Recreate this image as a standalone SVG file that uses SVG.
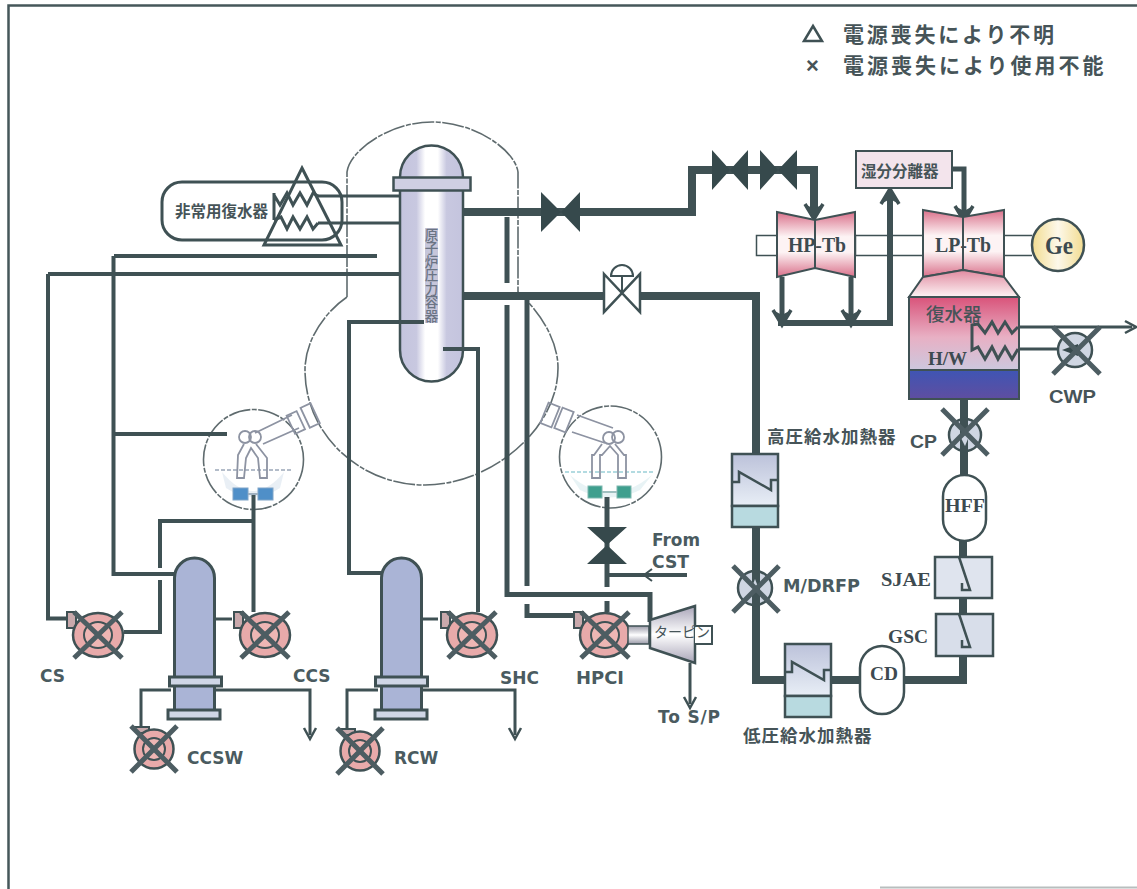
<svg xmlns="http://www.w3.org/2000/svg" width="1137" height="889" viewBox="0 0 1137 889">
<style>
.p{fill:none;stroke:#3f5154;stroke-linejoin:miter}
.t3{stroke-width:3}.t4{stroke-width:4}.t5{stroke-width:5}.t8{stroke-width:8}
.g{fill:none;stroke:#5f6b6e;stroke-width:1.6;stroke-dasharray:22 1.5 5 1.5}
.f{fill:none;stroke:#8d93a2;stroke-width:1.8}
.vd{fill:#36494c}
.x{stroke:#4d5d62;stroke-width:5;stroke-linecap:butt;fill:none}
.lab{font-family:"DejaVu Sans",sans-serif;font-weight:700;font-size:17px;fill:#4a5b60}
.ser{font-family:"Liberation Serif",serif;font-weight:700;fill:#3d4a50}
.jp{font-family:"Noto Sans CJK JP",sans-serif;font-weight:700;fill:#465458}
.arial{font-family:"Liberation Sans",sans-serif;font-weight:700;font-size:18px;fill:#465458}
</style>
<defs>
<linearGradient id="tb" x1="0" y1="0" x2="0" y2="1"><stop offset="0" stop-color="#d9708a"/><stop offset=".38" stop-color="#fdf3f4"/><stop offset=".62" stop-color="#fdf3f4"/><stop offset="1" stop-color="#d9708a"/></linearGradient>
<linearGradient id="hood" x1="0" y1="0" x2="0" y2="1"><stop offset="0" stop-color="#e08aa0"/><stop offset="1" stop-color="#fdf3f4"/></linearGradient>
<linearGradient id="cond" x1="0" y1="0" x2="0" y2="1"><stop offset="0" stop-color="#d9537a"/><stop offset=".55" stop-color="#e8b0c4"/><stop offset="1" stop-color="#ccc8de"/></linearGradient>
<linearGradient id="blue" x1="0" y1="0" x2="0" y2="1"><stop offset="0" stop-color="#3f55b4"/><stop offset="1" stop-color="#5f4ea0"/></linearGradient>
<linearGradient id="rpv" x1="0" y1="0" x2="1" y2="0"><stop offset="0" stop-color="#c4c4de"/><stop offset=".26" stop-color="#c8c8e0"/><stop offset=".4" stop-color="#fff"/><stop offset=".6" stop-color="#fff"/><stop offset=".74" stop-color="#c8c8e0"/><stop offset="1" stop-color="#c4c4de"/></linearGradient>
<linearGradient id="ge" x1="0" y1="0" x2="1" y2="0"><stop offset="0" stop-color="#f2dc90"/><stop offset=".5" stop-color="#fdf8ea"/><stop offset="1" stop-color="#f2dc90"/></linearGradient>
<linearGradient id="hx" x1="0" y1="0" x2="0" y2="1"><stop offset="0" stop-color="#bcc2da"/><stop offset="1" stop-color="#e8eef6"/></linearGradient>
<linearGradient id="shaft" x1="0" y1="0" x2="0" y2="1"><stop offset="0" stop-color="#9a9aa8"/><stop offset=".5" stop-color="#fff"/><stop offset="1" stop-color="#9a9aa8"/></linearGradient>
<linearGradient id="tur" x1="0" y1="0" x2="0" y2="1"><stop offset="0" stop-color="#a9a5b8"/><stop offset=".5" stop-color="#fff"/><stop offset="1" stop-color="#a9a5b8"/></linearGradient>
<marker id="big" markerUnits="userSpaceOnUse" markerWidth="28" markerHeight="28" refX="14" refY="14" orient="auto" overflow="visible"><path d="M6,5 L21,14 L6,23" fill="none" stroke="#3f5154" stroke-width="3.5"/><path d="M6,5 L21,14 L6,23 L11,14Z" fill="#3f5154"/></marker>
<marker id="small" markerUnits="userSpaceOnUse" markerWidth="20" markerHeight="20" refX="10" refY="10" orient="auto" overflow="visible"><path d="M3,4 L14,10 L3,16" fill="none" stroke="#3f5154" stroke-width="2.5"/></marker>
<g id="pumpH"><rect x="-31" y="-23" width="9" height="16" fill="#c9a9ac" stroke="#3f5154" stroke-width="2"/><ellipse rx="25" ry="22" fill="#e8aaaa" stroke="#3f5154" stroke-width="2.5"/><ellipse rx="14" ry="13" fill="#eeb6b4" stroke="#3f5154" stroke-width="2"/><path class="x" d="M-24,-23 L24,23 M-24,23 L24,-23"/></g>
<g id="pumpV"><path d="M-21,-22 H-5 V-16 H-17Z" fill="#c9a9ac" stroke="#3f5154" stroke-width="2"/><circle r="19.5" fill="#e8aaaa" stroke="#3f5154" stroke-width="2.5"/><circle r="11" fill="#eeb6b4" stroke="#3f5154" stroke-width="2"/><path class="x" d="M-23,-23 L23,23 M-23,23 L23,-23"/></g>
<g id="heater"><rect x="0" y="0" width="46" height="52" fill="url(#hx)" stroke="#3f5154" stroke-width="2.5"/><rect x="0" y="52" width="46" height="21" fill="#b8dae0" stroke="#3f5154" stroke-width="2.5"/><path d="M0,28 H7 V18 L39,36 V26 H46" fill="none" stroke="#3f5154" stroke-width="2.5"/></g>
<g id="tube"><path d="M-20,0 A20,20 0 0 1 20,0 V140 H-20Z" fill="#aab4d6" stroke="#3f5154" stroke-width="3"/></g>
<g id="ej"><path d="M-9,-20 L2,13 L-6,13 L-6,6" fill="none" stroke="#3f5154" stroke-width="2.5"/></g>
</defs>

<rect width="1137" height="889" fill="#fff"/>
<g id="frame">
<path d="M8.5,889 V5.500 H1137" fill="none" stroke="#45575a" stroke-width="2.5"/>
<path d="M880,887.5 H1137" fill="none" stroke="#b8bebe" stroke-width="2"/>
</g>

<g id="drywell">
<path class="g" d="M347,297 V172 C350,150 390,122 432,122 C475,122 515,150 518,172 V292"/>
<path class="g" d="M347,297 C325,312 305,340 305,370 C305,435 360,485 425,485 C490,485 558,430 558,368 C558,340 540,312 518,292"/>
</g>

<g id="torus-a">
<circle class="g" cx="253.5" cy="459.5" r="50"/>
<path d="M215,470 H292" stroke="#9aa6b8" stroke-width="1.5" stroke-dasharray="4 2" fill="none"/>
<path d="M222,472 Q253,510 284,472 L280,488 Q253,506 226,488Z" fill="#e4ebf2" opacity=".8"/>
<path class="f" d="M255,433 L292,415 M263,444 L299,428"/>
<g class="f"><rect x="-9" y="-10" width="11" height="20" transform="translate(299,421) rotate(-25)"/><rect x="-2" y="-11" width="11" height="22" transform="translate(307,417) rotate(-25)"/></g>
<circle class="f" cx="245" cy="437" r="6"/><circle class="f" cx="255" cy="437" r="6"/>
<path class="f" d="M244,444 L238,455 L237,478 H244 L246,458 L251,448 L258,458 L260,478 H267 L267,458 L256,444"/>
<rect x="233" y="488" width="15" height="12" fill="#4f8fc8" stroke="#7fa4c8"/><rect x="258" y="488" width="15" height="12" fill="#4f8fc8" stroke="#7fa4c8"/>
<path d="M248,494 H258" stroke="#9fb0c0" stroke-width="2"/>
</g>

<g id="torus-b">
<circle class="g" cx="610.5" cy="457" r="51"/>
<path d="M565,472 H655" stroke="#9ad0d8" stroke-width="1.5" stroke-dasharray="4 2" fill="none"/>
<path d="M570,475 Q610,510 652,475 L640,490 Q610,505 580,490Z" fill="#e2f0f2" opacity=".8"/>
<path class="f" d="M577,415 L613,428 M572,432 L605,443"/>
<g class="f"><rect x="-6" y="-11" width="12" height="22" transform="translate(550,415) rotate(22)"/><rect x="-6" y="-11" width="12" height="22" transform="translate(564,420) rotate(22)"/></g>
<circle class="f" cx="609" cy="438" r="6"/><circle class="f" cx="618" cy="437" r="6"/>
<path class="f" d="M602,444 L594,455 H592 V478 H600 V455 H602 L610,446 L618,455 V478 H626 V455 H624 L615,444"/>
<rect x="588" y="486" width="14" height="12" fill="#3f9f8e" stroke="#7fb8b0"/><rect x="617" y="486" width="14" height="12" fill="#3f9f8e" stroke="#7fb8b0"/>
<path d="M602,492 H617" stroke="#9fc0c0" stroke-width="2"/>
</g>

<g id="connectors">
<path class="p t8" d="M463,212 H692 V170 H814 V212" marker-end="url(#big)"/>
<path class="p t5" d="M507,217 V283 M507,305 V594.5 H650 V622"/>
<path class="p t5" d="M527,300 V586 M527,604 V615.5 H577"/>
<path class="p t8" d="M463,296 H604 M641,296 H756 V455"/>
<path class="p t8" d="M756,527 V680 H784 M831,680 H860 M904,680 H963 V656"/>
<path class="p t8" d="M963,614 V598 M963,557 V541 M964,475 V399"/>
<path class="p t5" d="M782,277 V318" marker-end="url(#big)"/>
<path class="p t5" d="M851,277 V318" marker-end="url(#big)"/>
<path class="p" style="stroke-width:6" d="M778,323 H890 V196" marker-end="url(#big)"/>
<path class="p t5" d="M952,169 H964 V214" marker-end="url(#big)"/>
<path class="p t3" d="M1019,327 H1132" marker-end="url(#small)"/>
<path class="p t3" d="M1019,349 H1060"/>
<path class="p t3" d="M318,196 H404 M318,223 H404"/>
<path class="p t4" d="M114,256 H377 M113.5,256 V574 H176"/>
<path class="p t4" d="M48,274 H414 M48,274 V618.5 H68"/>
<path class="p t4" d="M113,434 H227"/>
<path class="p t4" d="M124,632 H160 V580 M160,568 V521 H254"/>
<path class="p t4" d="M253.5,495 V612"/>
<path class="p t3" d="M214,619 H232"/>
<path class="p t3" d="M171,690 H141 V727"/>
<path class="p t3" d="M214,690 H310 V735" marker-end="url(#small)"/>
<path class="p t4" d="M424,322 H349 V573 H382"/>
<path class="p t4" d="M443,349 H478 V612"/>
<path class="p t3" d="M421,619 H438"/>
<path class="p t3" d="M378,690 H347 V729"/>
<path class="p t3" d="M421,690 H515 V735" marker-end="url(#small)"/>
<path class="p t5" d="M607,497 V587 M607,601 V612"/>
<path class="p t4" d="M687,575 H607"/>
<path d="M652,569 L644,575 L652,581" fill="none" stroke="#3f5154" stroke-width="2"/>
<path class="p t3" d="M690,663 V704" marker-end="url(#small)"/>
</g>

<g id="rpv">
<path d="M400,177 A31.5,31.5 0 0 1 463,177 V350 A31.5,31.5 0 0 1 400,350Z" fill="url(#rpv)" stroke="#3f5154" stroke-width="2.5"/>
<rect x="393.5" y="177.5" width="77" height="13" fill="#cfcfe2" stroke="#3f5154" stroke-width="2.5"/>
<rect x="425" y="228" width="13" height="95" fill="#c6c6da"/>
<text class="jp" x="431.5" y="228" style="writing-mode:vertical-rl;font-size:13.5px;fill:#6b7484;font-weight:500">原子炉圧力容器</text>
<path class="p t4" d="M400,322 H424 M443,349 H463"/>
</g>

<g id="ic">
<rect x="162" y="182" width="180" height="58" rx="20" fill="none" stroke="#3f5154" stroke-width="3"/>
<text class="jp" x="175" y="217" style="font-size:15.5px">非常用復水器</text>
<path d="M302,168 L341,245 H264Z" fill="none" stroke="#3f5154" stroke-width="3"/>
<path class="p t3" d="M274,193 V220 M274,195 L280,205 L287,193 L293,205 L300,193 L307,205 L313,193 L318,196 M274,220 L281,217 L287,229 L293,217 L300,229 L307,217 L313,229 L318,223"/>
</g>

<g id="msiv-a"><path class="vd" d="M541,192 L561,212 L541,232Z M580,192 L561,212 L580,232Z"/></g>
<g id="msiv-b"><path class="vd" d="M712,150 L730,170 L712,190Z M748,150 L730,170 L748,190Z"/></g>
<g id="msiv-c"><path class="vd" d="M760,150 L778,170 L760,190Z M797,150 L778,170 L797,190Z"/></g>
<g id="fw-valve">
<path d="M604,274 L640,312 V274 L604,312Z" fill="#fff" stroke="#3f5154" stroke-width="2.5"/>
<path d="M622,293 V277 M611,276 A11,11 0 0 1 633,276Z" fill="#fff" stroke="#3f5154" stroke-width="2"/>
</g>

<g id="hp-tb">
<rect x="756.5" y="235.5" width="99" height="20" fill="none" stroke="#3f5154" stroke-width="1.5"/>
<path d="M777,212 L815,220 L855,212 V277 L815,268 L777,277Z" fill="url(#tb)" stroke="#3f5154" stroke-width="2"/>
<path d="M815,220 V268" stroke="#3f5154" stroke-width="2"/>
<text class="ser" x="788" y="252" style="font-size:20px" textLength="58" lengthAdjust="spacingAndGlyphs">HP-Tb</text>
</g>
<g id="lp-tb">
<path d="M855,235.5 H923 M855,255.5 H923 M1004,235.5 H1032 M1004,255.5 H1032" stroke="#3f5154" stroke-width="1.5"/>
<path d="M923,210 L963,217 L1004,210 V277 L963,270 L923,277Z" fill="url(#tb)" stroke="#3f5154" stroke-width="2"/>
<path d="M963,217 V270" stroke="#3f5154" stroke-width="2"/>
<text class="ser" x="935" y="252" style="font-size:20px" textLength="56" lengthAdjust="spacingAndGlyphs">LP-Tb</text>
</g>
<g id="ge"><circle cx="1058" cy="245" r="26" fill="url(#ge)" stroke="#3f5154" stroke-width="2.5"/><text class="ser" x="1045" y="254" style="font-size:26px" textLength="28" lengthAdjust="spacingAndGlyphs">Ge</text></g>
<g id="condenser">
<path d="M923,277 L963,270 L1004,277 L1019,297 H909Z" fill="url(#hood)" stroke="#3f5154" stroke-width="2"/>
<rect x="909" y="297" width="110" height="73" fill="url(#cond)" stroke="#3f5154" stroke-width="2"/>
<rect x="909" y="370" width="110" height="29" fill="url(#blue)" stroke="#3f5154" stroke-width="2"/>
<text class="jp" x="926" y="321" style="font-size:18.5px;font-weight:500">復水器</text>
<text class="ser" x="928" y="365" style="font-size:19px" textLength="39" lengthAdjust="spacingAndGlyphs">H/W</text>
<path class="p t3" d="M1018,327 L1012,333 L1005,322 L998,333 L992,322 L985,333 L978,324 L972,325 V350 L978,347 L985,359 L992,347 L998,359 L1005,347 L1012,359 L1018,349"/>
</g>
<g id="moisture-separator">
<rect x="856" y="151" width="96" height="37" fill="#f3e4ec" stroke="#3f5154" stroke-width="2"/>
<text class="jp" x="861" y="177" style="font-size:15.5px">湿分分離器</text>
</g>

<g id="cwp"><circle cx="1075" cy="350" r="17" fill="#cfd6e2" stroke="#3f5154" stroke-width="2.5"/><path class="vd" d="M1062,350 L1078,344 V356Z"/><path class="x" d="M1053,327 L1100,374 M1053,374 L1100,327"/><text class="arial" x="1049" y="403" style="font-size:18px" textLength="47" lengthAdjust="spacingAndGlyphs">CWP</text></g>
<g id="cp"><circle cx="965" cy="435" r="16" fill="#cfd6e2" stroke="#3f5154" stroke-width="2.5"/><path class="p t8" d="M964,419 V451"/><path class="vd" d="M959,434 H970 L965,446Z" style="fill:#cfd6e2"/><path class="x" d="M942,409 L988,455 M942,455 L988,409"/><text class="arial" x="910" y="448" textLength="27" lengthAdjust="spacingAndGlyphs">CP</text></g>
<g id="hff"><rect x="943" y="475" width="43" height="66" rx="21.5" fill="#fff" stroke="#3f5154" stroke-width="2.5"/><text class="ser" x="945" y="512" style="font-size:19px" textLength="40" lengthAdjust="spacingAndGlyphs">HFF</text></g>
<g id="sjae"><rect x="935" y="557" width="57" height="41" fill="#dfe4ee" stroke="#3f5154" stroke-width="2.5"/><use href="#ej" x="968" y="577"/><text class="ser" x="881" y="586" style="font-size:19px" textLength="50" lengthAdjust="spacingAndGlyphs">SJAE</text></g>
<g id="gsc"><rect x="936" y="614" width="57" height="42" fill="#d8deea" stroke="#3f5154" stroke-width="2.5"/><use href="#ej" x="968" y="634"/><text class="ser" x="888" y="643" style="font-size:19px" textLength="40" lengthAdjust="spacingAndGlyphs">GSC</text></g>
<g id="cd"><rect x="860" y="646" width="44" height="68" rx="22" fill="#fff" stroke="#3f5154" stroke-width="2.5"/><text class="ser" x="870" y="680" style="font-size:19px" textLength="28" lengthAdjust="spacingAndGlyphs">CD</text></g>
<g id="lp-heater"><use href="#heater" x="785" y="644"/><text class="jp" x="743" y="742" style="font-size:17.5px;letter-spacing:1px">低圧給水加熱器</text></g>
<g id="hp-heater"><use href="#heater" x="732" y="454"/><text class="jp" x="767" y="443" style="font-size:17.5px;letter-spacing:1px">高圧給水加熱器</text></g>
<g id="mdrfp"><circle cx="755" cy="588" r="17" fill="#cfd6e2" stroke="#3f5154" stroke-width="2.5"/><path class="p t8" d="M756,572 V605"/><path d="M755,579 L750,592 H760Z" fill="#cfd6e2"/><path class="x" d="M733,566 L779,612 M733,612 L779,566"/><text class="lab" x="783" y="592" textLength="77" lengthAdjust="spacingAndGlyphs">M/DRFP</text></g>

<g id="ccs-tank"><use href="#tube" x="194.5" y="578"/><rect x="169.5" y="677" width="52" height="9" fill="#cfd6e6" stroke="#3f5154" stroke-width="3"/><rect x="168" y="710" width="52" height="9" fill="#cfd6e6" stroke="#3f5154" stroke-width="3"/></g>
<g id="shc-tank"><use href="#tube" x="401.5" y="578"/><rect x="375.5" y="677" width="52" height="9" fill="#cfd6e6" stroke="#3f5154" stroke-width="3"/><rect x="375" y="710" width="52" height="9" fill="#cfd6e6" stroke="#3f5154" stroke-width="3"/></g>

<g id="cs-pump"><use href="#pumpH" x="98" y="635"/><text class="lab" x="40" y="682">CS</text></g>
<g id="ccs-pump"><use href="#pumpH" x="265" y="635"/><text class="lab" x="293" y="682">CCS</text></g>
<g id="shc-pump"><use href="#pumpH" x="472" y="635"/><text class="lab" x="500" y="684">SHC</text></g>
<g id="hpci-pump"><use href="#pumpH" x="605" y="635"/><text class="lab" x="576" y="684" textLength="48" lengthAdjust="spacingAndGlyphs">HPCI</text></g>
<g id="ccsw-pump"><use href="#pumpV" x="154" y="749"/><text class="lab" x="187" y="764">CCSW</text></g>
<g id="rcw-pump"><use href="#pumpV" x="360" y="751"/><text class="lab" x="394" y="764">RCW</text></g>

<g id="hpci-turbine">
<rect x="628" y="626" width="21" height="18" fill="url(#shaft)" stroke="#3f5154" stroke-width="1.5"/>
<path d="M650,620 L695,606 V663 L650,648Z" fill="url(#tur)" stroke="#3f5154" stroke-width="2.5"/>
<path d="M695,626 H712 V644 H695" fill="#fff" stroke="#3f5154" stroke-width="2"/>
<text class="jp" x="654" y="637" style="font-size:14px;font-weight:400">ターピン</text>
</g>
<g id="hpci-valve"><path class="vd" d="M587,527 H627 L607,545Z M587,564 H627 L607,545Z"/></g>
<text class="lab" x="652" y="546" textLength="48" lengthAdjust="spacingAndGlyphs">From</text>
<text class="lab" x="652" y="568" textLength="37" lengthAdjust="spacingAndGlyphs">CST</text>
<text class="lab" x="658" y="723" textLength="62">To S/P</text>

<g id="legend">
<path d="M813,26 L822,41 H804Z" fill="none" stroke="#3f5154" stroke-width="2.5"/>
<text class="jp" x="843" y="42" style="font-size:21px;letter-spacing:2.8px">電源喪失により不明</text>
<text class="arial" x="806" y="73" style="font-size:22px">×</text>
<text class="jp" x="843" y="73" style="font-size:21px;letter-spacing:3px">電源喪失により使用不能</text>
</g>
</svg>
